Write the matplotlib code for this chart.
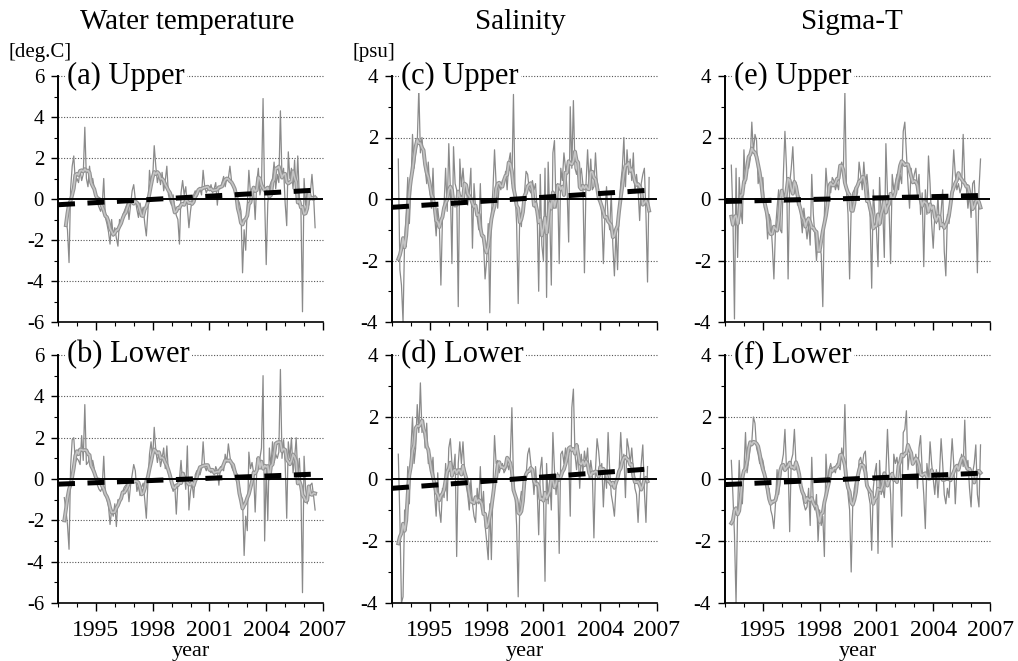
import numpy as np
import pandas as pd
import matplotlib
matplotlib.use("Agg")
import matplotlib.pyplot as plt
from matplotlib.ticker import FixedLocator, MultipleLocator, NullFormatter
import matplotlib.patheffects as pe

plt.rcParams['font.family'] = ['Liberation Serif', 'DejaVu Serif']
plt.rcParams['axes.unicode_minus'] = False

nan = np.nan
# monthly time axis 1993.0 .. 2006.917
years = np.arange(1993, 2007)
months = 1993 + np.arange(168) / 12.0

temp_upper = [
    nan, nan, nan, nan, nan, -1.0, -1.5, -3.1, 0.5, 1.6, 2.1, 0.8,
    1.0, 0.8, 1.4, 0.9, 1.2, 3.5, 1.0, 0.6, 1.6, 0.8, 1.0, 0.5,
    0.1, -0.2, -0.4, -0.6, -0.3, 1.0, -0.9, -1.2, -1.6, -2.2, -1.0, -1.8,
    -1.4, -1.9, -2.3, -1.0, -1.3, -0.8, -0.6, -0.4, -0.2, -1.0, -0.3, 0.4,
    0.7, 0.0, -0.5, -0.9, -0.2, -0.7, -0.4, -1.2, -1.8, -0.6, 1.4, 0.6,
    1.0, 2.6, 1.6, 0.8, 1.2, 0.7, 1.3, 0.4, 0.9, 1.6, 0.2, -0.1,
    -0.3, 0.2, -0.4, -0.8, -1.0, -2.2, 0.3, 0.9, 0.2, 0.6, -0.4, -1.4,
    -0.6, 0.0, 0.2, 0.4, 0.1, 0.3, 0.5, 0.2, 1.4, 0.6, 0.3, 0.5,
    0.4, 0.7, 0.3, 0.5, 0.8, -0.3, 0.6, 0.5, 0.8, 1.1, 0.6, 1.0,
    1.0, 1.6, 0.9, 0.6, 0.4, 0.2, 0.0, -0.2, -0.6, -3.6, -1.5, -2.5,
    -0.3, 1.4, 0.3, 0.5, 0.4, -1.0, 0.8, 1.5, 0.2, 0.6, 4.9, 0.0,
    -3.2, -0.2, 0.6, 0.8, 1.0, 1.8, 0.5, 1.2, 0.8, 4.3, 1.0, 1.5,
    -0.2, -1.3, 2.3, 1.0, 1.5, 0.5, 1.9, 0.2, 2.1, 0.1, -0.5, -5.5,
    1.0, -0.3, 0.4, -0.3, 0.3, 1.2, 0.2, -1.4, nan, nan, nan, nan,
]
temp_lower = [
    nan, nan, nan, nan, -0.9, -1.5, -2.2, -3.4, 0.6, 1.9, 2.0, 0.8,
    1.0, 0.9, 0.7, 2.1, 0.9, 3.6, 0.7, 0.8, 1.0, 0.6, 0.9, 0.5,
    0.0, -0.3, -0.5, -0.6, -0.4, 1.1, -0.7, -1.0, -1.3, -2.2, -1.5, -1.8,
    -1.2, -2.3, -1.0, -1.2, -0.8, -0.6, -0.4, -0.3, -0.2, -1.1, -0.3, 0.2,
    0.7, 0.4, -0.6, -0.3, -0.8, -0.4, -0.2, -1.0, -1.9, -0.2, 1.2, 1.8,
    1.0, 2.5, 1.4, 0.8, 1.3, 0.6, 1.0, 1.5, 0.5, 1.6, 0.3, 0.0,
    -0.3, -0.6, -0.3, -1.7, -0.2, 0.0, 0.9, -0.2, 0.3, -0.5, 1.6, -1.5,
    -0.6, -0.2, -0.9, 0.2, 0.4, 0.3, 0.2, 0.5, 1.8, 0.6, 0.4, 0.7,
    0.4, 0.3, 0.5, 0.2, 0.6, 0.4, -0.3, 0.6, 0.5, 0.4, 1.2, 0.8,
    1.7, 1.1, 0.6, 0.4, 0.5, 0.3, 0.2, -0.4, -0.8, -1.0, -3.7, -1.8,
    -2.5, 1.3, 0.5, 0.8, 0.3, -1.6, 0.4, 0.5, 1.0, 1.5, 5.0, -3.0,
    0.5, -2.0, 1.5, 0.6, 1.8, 0.8, 1.2, 1.0, 1.3, 5.3, 1.0, 1.9,
    0.8, -1.9, 1.8, 1.0, 2.0, 0.3, 1.0, 2.0, 0.2, 1.0, -0.5, -5.5,
    1.1, -0.5, -1.2, -0.6, -0.3, -0.2, -0.8, -1.5, nan, nan, nan, nan,
]
sal_upper = [
    nan, nan, nan, nan, 1.3, -2.3, -2.8, -4.0, -1.3, -0.5, 0.7, -0.8,
    0.4, 2.1, 1.0, 1.5, 1.8, 3.6, 1.5, 2.0, 1.3, 1.0, 0.5, 1.2,
    0.3, -0.3, 1.0, -0.5, -1.2, -0.3, -0.8, -2.8, -0.6, -0.2, 1.0, -0.4,
    1.8, 0.3, -2.1, 1.7, 0.5, 0.3, -3.5, 1.3, 0.4, 1.0, 0.3, 0.5,
    -0.2, 0.2, 1.0, -1.6, 0.5, -0.3, -0.6, -1.0, 0.5, -1.2, -1.4, -2.6,
    -2.0, -0.8, -3.7, -0.5, 0.3, 1.6, 0.5, -0.3, 0.5, 0.3, 0.6, 0.5,
    0.9, 0.3, 1.2, 1.5, 0.5, 3.4, 0.2, -0.8, -3.4, -0.5, -0.9, -0.1,
    0.2, 0.9, 0.8, 0.3, 0.2, 0.6, 0.3, 0.5, -0.4, -3.0, 0.8, -1.5,
    -2.0, 1.0, -3.2, 1.2, -0.5, -2.8, 1.5, 1.9, -0.3, 0.5, -2.1, 1.0,
    0.6, 1.5, 1.0, 0.3, -1.4, 3.0, 1.0, 3.2, 1.0, 0.8, 1.1, 0.7,
    1.0, 0.5, -2.4, 0.5, 1.6, 0.5, 1.3, 0.3, 0.4, 1.5, 0.6, 0.3,
    0.1, -0.5, -2.1, -0.5, 0.4, -0.6, -1.0, 0.2, -1.5, -2.5, -1.0, -2.3,
    -0.3, 0.5, 1.0, 2.0, 0.4, 1.6, 0.8, 1.3, 0.6, 1.5, 0.2, 0.8,
    0.3, -0.7, 0.5, 0.8, 1.0, -0.5, -2.7, 0.7, nan, nan, nan, nan,
]
sal_lower = [
    nan, nan, nan, nan, 0.8, -1.3, -4.0, -3.8, -1.0, -1.2, 0.4, -0.8,
    1.0, 2.0, 0.5, 1.0, 2.4, 1.5, 3.1, 1.5, 1.9, 1.0, 1.8, 0.5,
    0.5, 0.2, 0.7, -0.5, -1.2, 0.2, -1.0, -1.4, -0.3, -0.6, 0.5, -0.7,
    1.0, 1.3, 0.5, 0.3, 0.8, -2.5, 0.5, 1.2, 0.5, 1.2, 0.3, -0.2,
    -0.5, -1.0, 0.0, -0.8, -1.2, -1.4, -0.3, -0.8, 0.4, -1.0, -0.4, -1.5,
    -2.0, -2.6, -0.8, -2.6, -0.3, 1.4, 0.5, 0.6, 0.2, 0.4, 0.5, 0.2,
    0.3, 0.5, 0.3, 0.7, 2.3, 0.0, -0.5, -1.5, -3.8, -0.8, -0.4, -0.6,
    -0.3, 0.1, 0.8, 1.0, 0.5, 0.2, -0.5, 0.4, -0.3, -1.8, 0.3, 0.7,
    -0.5, -3.3, 0.5, -0.8, 0.0, -1.0, 1.5, 0.3, -0.5, 0.2, -2.4, 0.8,
    0.9, 0.5, 1.0, 0.6, 0.8, -1.2, 2.3, 2.9, 0.8, 0.3, 0.9, -0.3,
    0.8, 0.2, 0.9, 0.5, 1.0, 0.0, 0.6, 0.2, -1.9, 0.3, 1.3, 0.9,
    0.3, 0.5, -0.9, 0.3, -0.3, 1.5, 0.3, -0.5, -0.8, -1.2, -0.3, 0.2,
    0.3, 1.5, 0.5, 0.8, -0.6, 1.3, 1.0, 0.5, 1.0, 0.3, -0.3, -0.5,
    -1.4, -0.3, 0.5, 1.1, -0.4, -1.4, 0.4, nan, nan, nan, nan, nan,
]
sig_upper = [
    nan, nan, nan, nan, 1.1, -0.5, -3.9, 1.0, -1.9, 0.7, -0.3, -0.8,
    1.6, 0.5, 1.2, 1.0, 1.3, 2.5, 1.5, 2.1, 1.9, 0.5, 0.8, 0.3,
    0.7, -0.3, -0.4, -1.3, -0.5, -0.7, -1.5, -2.6, -1.0, -0.3, 0.3, -1.0,
    -1.1, 0.8, 2.2, 1.0, -2.6, 0.5, 1.0, 1.7, 0.5, 0.3, -0.2, 0.1,
    -0.5, -1.1, -0.3, -0.8, -1.3, -0.8, -1.5, 0.8, -0.5, -1.2, -2.0, -1.3,
    -1.5, -1.8, -3.5, -0.5, 1.0, 0.3, 0.5, 0.2, 0.7, 0.6, 0.3, 0.5,
    0.3, 1.0, 1.2, 0.8, 3.5, 0.3, -0.5, -2.6, -0.3, 0.2, 0.3, 0.0,
    0.2, 1.2, 0.8, 0.3, 1.2, 0.5, 0.8, 0.2, -0.6, -2.9, 0.3, -0.5,
    -1.0, -2.2, 0.7, -0.5, -0.3, -1.9, 1.8, 0.2, -0.3, -2.1, 0.8, 0.3,
    0.5, 0.8, 0.3, 0.8, 0.5, 2.2, 2.5, 1.5, 0.5, -0.3, 1.0, 0.5,
    0.8, 1.0, 0.3, 0.8, -0.5, 0.2, -2.2, 0.3, -0.5, 1.4, 0.5, -0.8,
    -1.6, -0.5, -0.8, 0.1, -1.0, -0.4, 0.3, -1.7, -2.5, -0.5, -0.8, -0.3,
    0.5, 1.6, 0.8, 0.3, 0.5, 0.2, 0.4, 2.1, 0.6, 0.4, -0.3, 0.2,
    -0.6, 0.5, 0.6, -0.3, -2.4, 0.3, 1.3, nan, nan, nan, nan, nan,
]
sig_lower = [
    nan, nan, nan, nan, 0.6, -0.5, -1.8, -4.0, -1.0, 0.6, -0.5, -0.8,
    0.3, 1.5, 0.2, 0.6, 1.0, 1.2, 2.0, 1.8, 1.0, 0.8, 0.5, 0.7,
    0.6, 0.3, -0.2, -0.5, -0.3, -1.0, -1.2, -1.6, -0.8, 0.3, -0.5, 0.0,
    0.5, 0.8, 1.6, 0.3, 0.5, -1.7, 0.6, 0.8, 1.6, 0.5, 0.4, 0.1,
    -0.2, -0.5, -0.8, -1.0, -0.9, -0.3, -1.5, 0.7, -0.8, -1.0, -0.5, -2.0,
    -1.0, -1.5, -1.2, -2.5, 0.8, -0.2, 0.3, 0.5, 0.2, 0.3, 0.2, 0.5,
    0.4, 0.3, 1.0, 0.6, 2.4, 0.3, -0.5, -1.0, -3.0, -0.8, -0.3, 0.0,
    -0.2, 0.6, 0.7, 0.4, 0.8, 0.9, 0.0, -0.5, -0.8, -2.3, -0.3, 0.2,
    0.5, -2.4, 0.6, -0.5, -0.3, -0.6, 0.2, 1.6, 0.3, -0.5, -2.2, 0.8,
    0.5, 0.7, 0.2, 0.5, -1.2, 1.5, 1.6, 2.2, 0.3, 0.8, 0.7, 0.6,
    0.5, 0.8, -0.3, 1.0, 1.4, 0.3, -0.5, -1.6, 0.5, 0.0, 1.2, 0.5,
    0.0, -0.5, 0.3, -0.6, 0.2, 1.3, 0.5, -0.5, -0.8, -0.3, -0.6, 0.4,
    1.3, 0.5, -0.8, 0.3, 0.5, 0.4, 0.8, 0.4, 1.9, 0.3, 0.6, -0.3,
    -0.9, 0.2, 0.5, 1.1, -0.5, -0.9, 1.1, nan, nan, nan, nan, nan,
]

# linear trend (start value at 1993.0, end value at ~2006.95)
trend_x = [1993.0, 2006.95]
trend_temp_upper = [-0.28, 0.45]
trend_temp_lower = [-0.25, 0.25]
trend_sal_upper = [-0.27, 0.30]
trend_sal_lower = [-0.30, 0.34]
trend_sig_upper = [-0.08, 0.12]
trend_sig_lower = [-0.18, 0.20]

col_titles = ["Water temperature", "Salinity", "Sigma-T"]
units = ["[deg.C]", "[psu]", ""]
panel_labels = [["(a) Upper", "(c) Upper", "(e) Upper"],
                ["(b) Lower", "(d) Lower", "(f) Lower"]]
series = [[temp_upper, sal_upper, sig_upper],
          [temp_lower, sal_lower, sig_lower]]
trends = [[trend_temp_upper, trend_sal_upper, trend_sig_upper],
          [trend_temp_lower, trend_sal_lower, trend_sig_lower]]
ylims = [6, 4, 4]
xticks = [1995, 1998, 2001, 2004, 2007]

W, H = 1018, 661
fig = plt.figure(figsize=(W / 100, H / 100), dpi=100)

col_left = [58, 392, 725]
ax_w = 265
row_top = [76, 355]
row_bot = [322, 603]

title_x = [187, 520, 852]
unit_x = [9, 352, 0]
for c in range(3):
    fig.text(title_x[c] / W, 1 - 22 / H, col_titles[c], ha='center', va='center',
             fontsize=21)
    if units[c]:
        fig.text(unit_x[c] / W, 1 - 52 / H, units[c], ha='left',
                 va='center', fontsize=15)

for r in range(2):
    for c in range(3):
        ax = fig.add_axes([col_left[c] / W, 1 - row_bot[r] / H, ax_w / W,
                           (row_bot[r] - row_top[r]) / H])
        lim = ylims[c]
        vals = pd.Series(series[r][c], dtype=float)
        smooth = vals.rolling(7, center=True, min_periods=4).mean()
        smooth[vals.isna()] = np.nan

        for g in np.arange(-lim + 2, lim + 1, 2):
            if g != 0:
                ax.axhline(g, color='#555555', lw=0.8, ls=(0, (1, 1.5)), zorder=1,
                           clip_on=False)
        ax.plot(months, vals, color='#8a8a8a', lw=0.9, zorder=2)
        ax.plot(months, smooth, color='#c4c4c4', lw=1.2, zorder=3,
                path_effects=[pe.Stroke(linewidth=2.8, foreground='#939393'),
                              pe.Normal()])
        ax.axhline(0, color='black', lw=1.4, zorder=4)
        ax.plot(trend_x, trends[r][c], color='black', lw=3.6,
                ls=(0, (3.4, 2.5)), solid_capstyle='butt',
                dash_capstyle='butt', zorder=5)

        ax.set_xlim(1993, 2007)
        ax.set_ylim(-lim, lim)
        for s in ['top', 'right']:
            ax.spines[s].set_visible(False)
        ax.spines['left'].set_linewidth(1.4)
        ax.spines['bottom'].set_linewidth(1.2)
        ax.xaxis.set_major_locator(FixedLocator(xticks))
        ax.xaxis.set_minor_locator(MultipleLocator(1))
        ax.yaxis.set_minor_locator(MultipleLocator(1))
        yt = np.arange(-lim, lim + 1, 2)
        ax.set_yticks(yt)
        ax.set_yticklabels([str(int(v)) for v in yt], fontsize=15)
        ax.tick_params(axis='y', which='major', direction='out', length=5,
                       width=1.0, pad=5)
        ax.tick_params(axis='y', which='minor', direction='out', length=3,
                       width=0.8)
        ax.tick_params(axis='x', which='major', direction='out', length=6,
                       width=1.0, pad=6)
        ax.tick_params(axis='x', which='minor', direction='out', length=3,
                       width=0.8)
        if r == 1:
            ax.set_xticklabels([str(v) for v in xticks], fontsize=17)
            ax.set_xlabel('year', fontsize=16, labelpad=1)
        else:
            ax.xaxis.set_major_formatter(NullFormatter())
        ax.patch.set_alpha(0)
        ax.text(0.034, 1.0, panel_labels[r][c], transform=ax.transAxes,
                ha='left', va='center', fontsize=22, zorder=10,
                bbox=dict(boxstyle='square,pad=0.08', fc='white', ec='none'))

fig.savefig('out.png', dpi=100)
